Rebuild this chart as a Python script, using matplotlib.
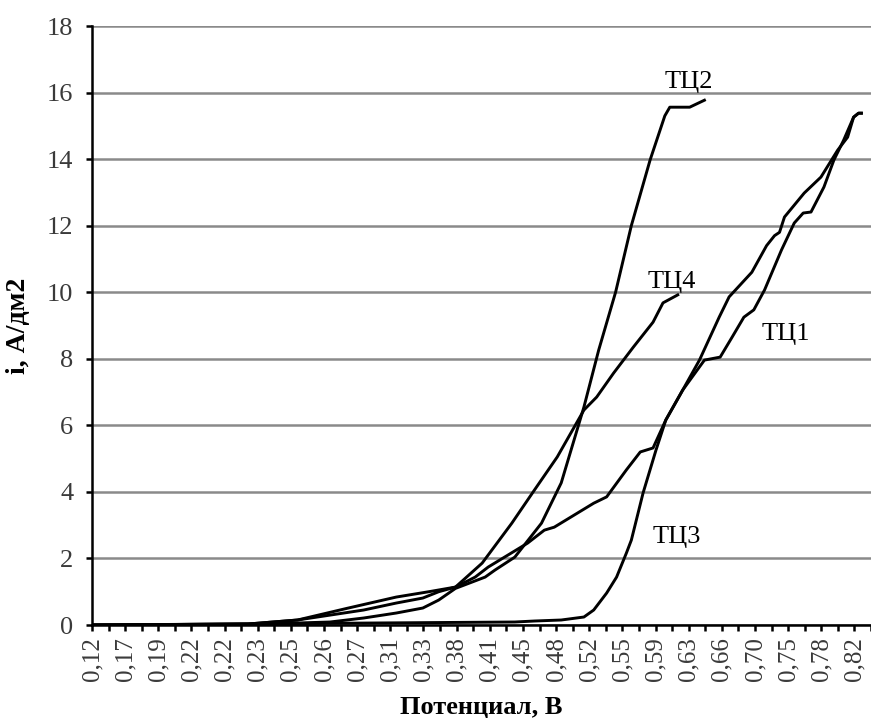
import matplotlib
matplotlib.use("Agg")
import matplotlib.pyplot as plt

# potential labels, one per every second category on the x axis
POT_LABELS = ["0,12", "0,17", "0,19", "0,22", "0,22", "0,23", "0,25", "0,26",
              "0,27", "0,31", "0,33", "0,38", "0,41", "0,45", "0,48", "0,52",
              "0,55", "0,59", "0,63", "0,66", "0,70", "0,75", "0,78", "0,82"]
Y_TICKS = [0, 2, 4, 6, 8, 10, 12, 14, 16, 18]

# curves: x is the category position, y the current density (A/dm2)
TC1_X = [0, 9.42, 12.40, 16.39, 18.36, 19.96, 20.92, 21.93, 23.12, 23.90, 26.28,
         27.29, 27.89, 29.08, 30.27, 31.05, 32.24, 33.08, 33.85, 34.62, 35.64,
         36.95, 37.90, 38.62, 39.33, 39.93, 40.58, 41.60, 42.37, 42.91, 43.38,
         44.16, 44.76, 45.35, 45.95, 46.25, 46.42]
TC1_Y = [0, 0.03, 0.15, 0.45, 0.66, 0.81, 1.0, 1.14, 1.44, 1.74, 2.46,
         2.85, 2.94, 3.3, 3.66, 3.85, 4.66, 5.2, 5.32, 6.16, 7.06,
         7.96, 8.05, 8.65, 9.25, 9.47, 10.07, 11.27, 12.08, 12.38, 12.41,
         13.16, 13.97, 14.57, 15.26, 15.38, 15.38]

TC2_X = [0, 9.42, 12.40, 14.36, 16.39, 18.36, 19.96, 20.92, 21.93, 23.72, 24.31,
         25.51, 27.12, 28.31, 29.68, 30.57, 31.59, 32.54, 33.67, 34.56, 34.86,
         36.06, 36.95]
TC2_Y = [0, 0, 0.06, 0.09, 0.21, 0.36, 0.51, 0.75, 1.1, 1.44, 1.65,
         2.04, 3.06, 4.27, 6.55, 8.26, 10.0, 12.0, 13.97, 15.3, 15.56,
         15.56, 15.77]

TC3_X = [0, 25.51, 26.70, 28.31, 29.68, 30.27, 31.05, 31.65, 32.24, 32.54, 33.25,
         34.03, 34.62, 35.64, 36.65, 37.84, 38.44, 39.81, 40.70, 41.18, 41.48,
         41.78, 42.97, 43.98, 44.99, 45.59, 45.95, 46.25, 46.42]
TC3_Y = [0, 0.09, 0.12, 0.15, 0.24, 0.45, 0.96, 1.44, 2.16, 2.55, 3.97,
         5.26, 6.16, 7.06, 7.96, 9.25, 9.86, 10.6, 11.4, 11.7, 11.8,
         12.26, 12.98, 13.46, 14.27, 14.66, 15.26, 15.38, 15.38]

TC4_X = [0, 9.42, 12.40, 15.38, 18.36, 20.32, 21.93, 23.54, 25.33, 26.70, 28.07,
         29.68, 30.45, 31.47, 32.66, 33.85, 34.45, 35.34]
TC4_Y = [0, 0.03, 0.15, 0.5, 0.84, 1.0, 1.14, 1.86, 3.06, 4.06, 5.05,
         6.46, 6.85, 7.57, 8.35, 9.1, 9.68, 9.92]

plt.rcParams["font.family"] = ["Liberation Serif", "DejaVu Serif"]

fig = plt.figure(figsize=(8.71, 7.18), dpi=100)
ax = fig.add_axes([92 / 871, 93 / 718, 779 / 871, 599 / 718])

for xs, ys in [(TC1_X, TC1_Y), (TC2_X, TC2_Y), (TC3_X, TC3_Y), (TC4_X, TC4_Y)]:
    ax.plot(xs, ys, color="black", lw=2.1, solid_joinstyle="round", zorder=3)

ax.text(34.55, 16.14, "ТЦ2", fontsize=19)
ax.text(33.5, 10.13, "ТЦ4", fontsize=19)
ax.text(40.4, 8.56, "ТЦ1", fontsize=19)
ax.text(33.85, 2.46, "ТЦ3", fontsize=19)

ax.set_xlim(0, 46.42)
ax.set_ylim(0, 18)
ax.set_yticks(Y_TICKS)
ax.set_yticklabels([str(t) for t in Y_TICKS], fontsize=19, color="#3a3a3a")
ax.set_xticks(range(0, 2 * len(POT_LABELS), 2))
ax.set_xticklabels(POT_LABELS, rotation=90, fontsize=18, color="#3a3a3a")
ax.set_xticks(range(1, 2 * len(POT_LABELS), 2), minor=True)
ax.tick_params(axis="both", which="both", direction="out", length=4.5, width=1.8)
ax.tick_params(axis="y", which="major", pad=9)
ax.tick_params(axis="x", which="major", pad=4)

ax.grid(axis="y", color="#8a8a8a", lw=1.8)
ax.set_axisbelow(True)
for side in ["top", "right"]:
    ax.spines[side].set_visible(False)
for side in ["left", "bottom"]:
    ax.spines[side].set_linewidth(1.8)
    ax.spines[side].set_zorder(4)

ax.set_xlabel("Потенциал, В", fontsize=19, fontweight="bold")
ax.set_ylabel("i, А/дм2", fontsize=20, fontweight="bold")
ax.xaxis.set_label_coords(0.5, -0.118)
ax.yaxis.set_label_coords(-0.078, 0.5)

plt.savefig("out.png", dpi=100)
plt.close()
